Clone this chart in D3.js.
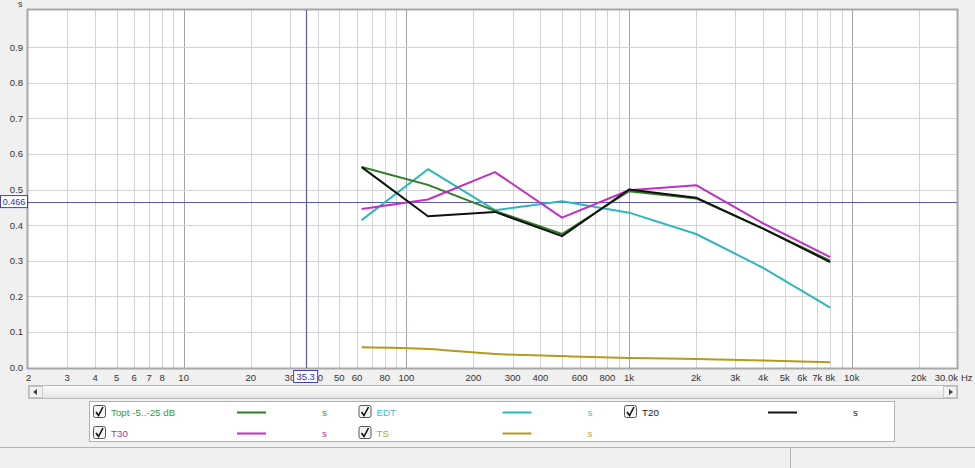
<!DOCTYPE html>
<html><head><meta charset="utf-8">
<script src="https://cdn.jsdelivr.net/npm/d3@7"></script>
<style>
html,body{margin:0;padding:0;background:#f0f0f0;}
svg{display:block;font-family:"Liberation Sans",Arial,sans-serif;}
</style></head>
<body><svg id="c" width="975" height="468"></svg>
<script>
// ---- data ----
const bands = [63, 125, 250, 500, 1000, 2000, 4000, 8000];
const topt = [0.563, 0.513, 0.440, 0.375, 0.495, 0.475, 0.390, 0.300];
const edt  = [0.414, 0.557, 0.442, 0.467, 0.435, 0.375, 0.280, 0.168];
const t20  = [0.563, 0.425, 0.437, 0.369, 0.500, 0.477, 0.390, 0.296];
const t30  = [0.445, 0.472, 0.549, 0.421, 0.498, 0.512, 0.405, 0.310];
const ts   = [0.057, 0.052, 0.038, 0.032, 0.027, 0.024, 0.020, 0.015];
const xTickVals = [2,3,4,5,6,7,8,10,20,30,40,50,60,80,100,200,300,400,600,800,1000,2000,3000,4000,5000,6000,7000,8000,10000,20000,30000];
const xTickLabels = ["2","3","4","5","6","7","8","10","20","30","40","50","60","80","100","200","300","400","600","800","1k","2k","3k","4k","5k","6k","7k","8k","10k","20k","30.0k"];
const yTicks = [0.0,0.1,0.2,0.3,0.4,0.5,0.6,0.7,0.8,0.9];
const cursorX = 35.3, cursorY = 0.466;
const seriesNames = ["Topt -5..-25 dB","EDT","T20","T30","TS"];

const svg = d3.select("#c");
const L = 28, R = 957, T = 10, B = 368;
const x = d3.scaleLog().domain([2, 30000]).range([L, 958]);
const y = d3.scaleLinear().domain([0, 1]).range([367.5, 11.5]);

// plot background
svg.append("rect").attr("x", L).attr("y", T).attr("width", R-L).attr("height", B-T).attr("fill", "#fff");

// vertical grid
const minor = [];
for (let d = 1; d <= 10000; d *= 10) for (let m = 1; m <= 9; m++) { const v = d*m; if (v > 2 && v < 30000) minor.push(v); }
svg.append("g").selectAll("line").data(minor).join("line")
  .attr("x1", d => Math.round(x(d))+0.5).attr("x2", d => Math.round(x(d))+0.5)
  .attr("y1", T).attr("y2", B)
  .attr("stroke", d => [10,100,1000,10000].includes(d) ? "#a2a2aa" : "#d4d4d4")
  .attr("stroke-width", 1);
// horizontal grid
svg.append("g").selectAll("line").data(yTicks.slice(1)).join("line")
  .attr("x1", L).attr("x2", R)
  .attr("y1", d => Math.round(y(d))+0.5).attr("y2", d => Math.round(y(d))+0.5)
  .attr("stroke", "#d4d4d4");

// frame
svg.append("rect").attr("x", L-0.5).attr("y", T-0.5).attr("width", R-L+1).attr("height", B-T+1)
  .attr("fill", "none").attr("stroke", "#a8a8a8").attr("stroke-width", 2);

// cursor lines
svg.append("line").attr("x1", Math.round(x(cursorX))+0.5).attr("x2", Math.round(x(cursorX))+0.5)
  .attr("y1", T).attr("y2", B).attr("stroke", "#5a5ab4").attr("stroke-width", 1.2);
svg.append("line").attr("x1", L).attr("x2", R)
  .attr("y1", Math.round(y(cursorY))+0.5).attr("y2", Math.round(y(cursorY))+0.5)
  .attr("stroke", "#5a5ab4").attr("stroke-width", 1.2);

// series
const series = [
  {name: seriesNames[4], vals: ts,   color: "#b59a1c", curve: d3.curveMonotoneX},
  {name: seriesNames[1], vals: edt,  color: "#2bb8bc", curve: d3.curveLinear},
  {name: seriesNames[0], vals: topt, color: "#2f7d25", curve: d3.curveLinear},
  {name: seriesNames[3], vals: t30,  color: "#c22fc2", curve: d3.curveLinear},
  {name: seriesNames[2], vals: t20,  color: "#111111", curve: d3.curveLinear},
];
series.forEach(s => {
  const line = d3.line().x((d,i) => x(bands[i])).y(d => y(d)).curve(s.curve);
  svg.append("path").attr("d", line(s.vals)).attr("fill", "none")
    .attr("stroke", s.color).attr("stroke-width", 2).attr("stroke-linejoin", "round");
});

// y axis labels
svg.append("g").selectAll("text").data(yTicks).join("text")
  .attr("x", 23).attr("y", d => y(d) + 3.5).attr("text-anchor", "end")
  .attr("font-size", 9.5).attr("fill", "#333").text(d => d.toFixed(1));
svg.append("text").attr("x", 18).attr("y", 7).attr("font-size", 9).attr("fill", "#333").text("s");

// x axis labels
const nX = xTickVals.length;
svg.append("g").selectAll("text").data(xTickVals).join("text")
  .attr("x", (d,i) => i === 0 ? x(d) - 2 : (i === nX-1 ? 958 : x(d))).attr("y", 381)
  .attr("text-anchor", (d,i) => i === 0 ? "start" : (i === nX-1 ? "end" : "middle"))
  .attr("font-size", 9.5).attr("fill", "#333").text((d,i) => xTickLabels[i]);
svg.append("text").attr("x", 961).attr("y", 381).attr("font-size", 9.5).attr("fill", "#333").text("Hz");

// cursor value boxes
const cxp = x(cursorX);
svg.append("rect").attr("x", cxp-12).attr("y", 370.5).attr("width", 24).attr("height", 12)
  .attr("fill", "#fff").attr("stroke", "#4040c0");
svg.append("text").attr("x", cxp).attr("y", 380).attr("text-anchor", "middle")
  .attr("font-size", 9.5).attr("fill", "#3030b0").text(cursorX.toFixed(1));
const cyp = y(cursorY);
svg.append("rect").attr("x", 0.5).attr("y", cyp-6).attr("width", 27).attr("height", 12)
  .attr("fill", "#fff").attr("stroke", "#4040c0");
svg.append("text").attr("x", 14).attr("y", cyp+3.5).attr("text-anchor", "middle")
  .attr("font-size", 9).attr("fill", "#3030b0").text(cursorY.toFixed(3));

// scrollbar
const grad = svg.append("defs").append("linearGradient").attr("id", "sb").attr("x1", 0).attr("x2", 0).attr("y1", 0).attr("y2", 1);
grad.append("stop").attr("offset", "0%").attr("stop-color", "#fdfdfd");
grad.append("stop").attr("offset", "100%").attr("stop-color", "#e4e4e4");
svg.append("rect").attr("x", 28.5).attr("y", 385.5).attr("width", 929).attr("height", 13)
  .attr("fill", "url(#sb)").attr("stroke", "#b8b8b8");
svg.append("rect").attr("x", 29.5).attr("y", 386.5).attr("width", 13).attr("height", 11).attr("fill", "#f2f2f2").attr("stroke", "#c8c8c8");
svg.append("rect").attr("x", 943.5).attr("y", 386.5).attr("width", 13).attr("height", 11).attr("fill", "#f2f2f2").attr("stroke", "#c8c8c8");
svg.append("path").attr("d", "M37,389 L33,392 L37,395 Z").attr("fill", "#444");
svg.append("path").attr("d", "M949,389 L953,392 L949,395 Z").attr("fill", "#444");

// legend
svg.append("rect").attr("x", 89.5).attr("y", 401.5).attr("width", 805).attr("height", 40)
  .attr("fill", "#fff").attr("stroke", "#b0b0b0");
const legendItems = [
  {name: seriesNames[0], color: "#2f7d25", text: "#3d9a2f", col: 0, row: 0},
  {name: seriesNames[1], color: "#2bb8bc", text: "#3cc4c8", col: 1, row: 0},
  {name: seriesNames[2], color: "#111111", text: "#222", col: 2, row: 0},
  {name: seriesNames[3], color: "#c22fc2", text: "#b030b0", col: 0, row: 1},
  {name: seriesNames[4], color: "#b59a1c", text: "#c0a040", col: 1, row: 1},
];
const lg = svg.append("g").selectAll("g").data(legendItems).join("g")
  .attr("transform", d => `translate(${93 + d.col*265.5},${412 + d.row*21})`);
lg.append("rect").attr("x", 0.5).attr("y", -6.5).attr("width", 12).attr("height", 12).attr("rx", 2)
  .attr("fill", "#f4f4f4").attr("stroke", "#555");
lg.append("path").attr("d", "M3,0 L5.5,3.5 L10,-5").attr("fill", "none").attr("stroke", "#111").attr("stroke-width", 1.6);
lg.append("text").attr("x", 18).attr("y", 3.5).attr("font-size", 9.8).attr("fill", d => d.text).text(d => d.name);
lg.append("line").attr("x1", 144).attr("x2", 173).attr("y1", 0.5).attr("y2", 0.5).attr("stroke", d => d.color).attr("stroke-width", 2);
lg.append("text").attr("x", 229).attr("y", 3.5).attr("font-size", 9.8).attr("fill", d => d.text).text("s");

// status bar
svg.append("line").attr("x1", 0).attr("x2", 975).attr("y1", 447.5).attr("y2", 447.5).attr("stroke", "#b4b4b4");
svg.append("line").attr("x1", 790.5).attr("x2", 790.5).attr("y1", 448).attr("y2", 468).attr("stroke", "#b4b4b4");
</script></body></html>
